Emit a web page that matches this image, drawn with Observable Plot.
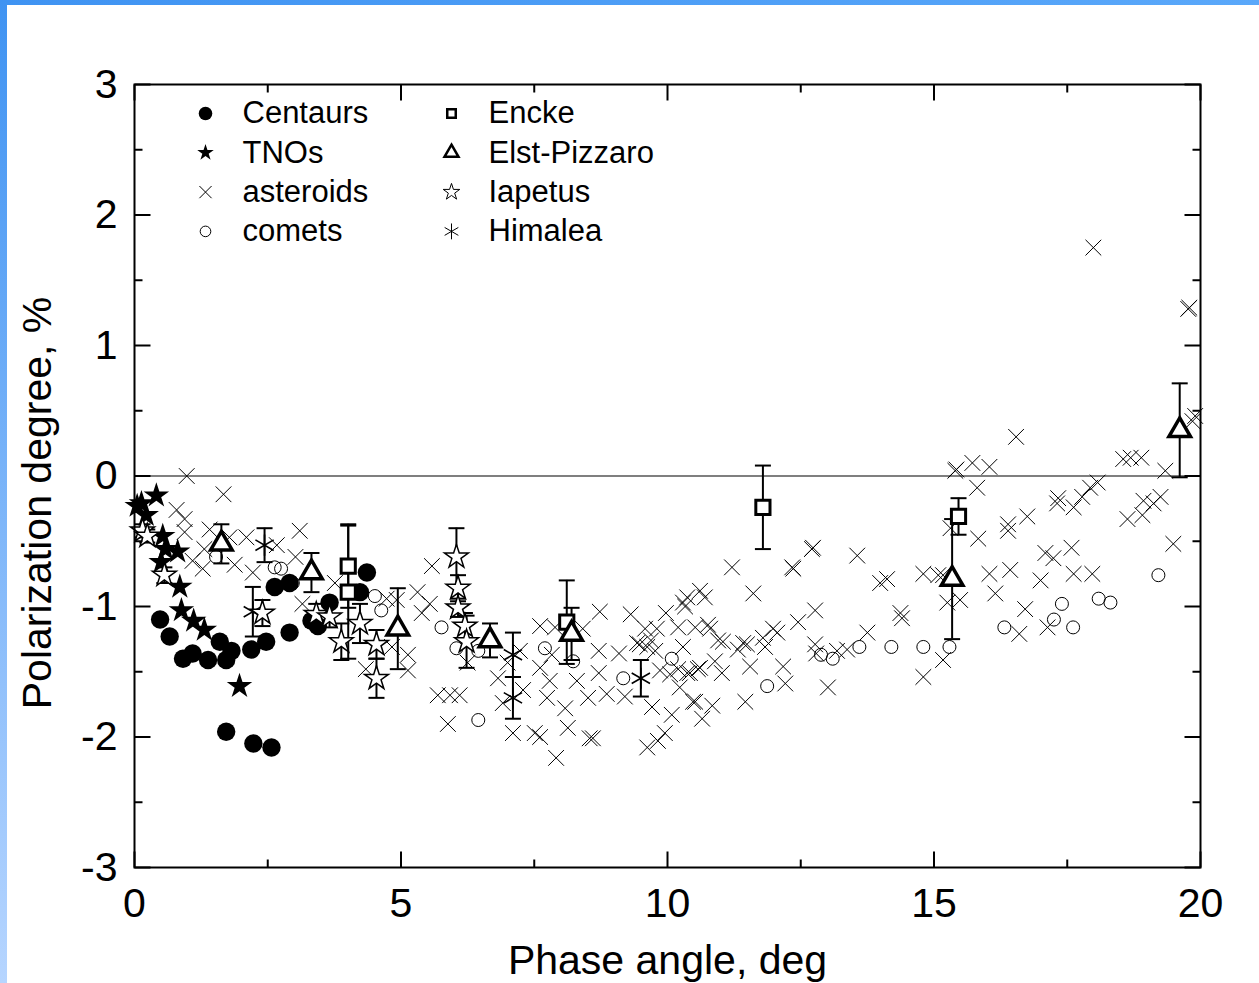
<!DOCTYPE html>
<html>
<head>
<meta charset="utf-8">
<script src="https://cdn.jsdelivr.net/npm/d3@7"></script>
<script src="https://cdn.jsdelivr.net/npm/@observablehq/plot@0.6"></script>
<style>
html,body{margin:0;padding:0;background:#fff;}
#wrap{position:relative;width:1259px;height:983px;overflow:hidden;background:#fff;}
#bandTop{position:absolute;left:0;top:0;width:1259px;height:5px;background:linear-gradient(to right,#3f93f2,#5aa8fa);}
#bandLeft{position:absolute;left:0;top:0;width:7px;height:983px;background:linear-gradient(to bottom,#3f93f2,#b6d5ff);}
#chart{position:absolute;left:0;top:0;}
</style>
</head>
<body>
<div id="wrap"><div id="bandTop"></div><div id="bandLeft"></div><div id="chart"></div></div>
<script>
// ---- data ----
const xTicks = [0, 5, 10, 15, 20];
const xMinorTicks = [2.5, 7.5, 12.5, 17.5];
const yTicks = [-3, -2, -1, 0, 1, 2, 3];
const yMinorTicks = [-2.5, -1.5, -0.5, 0.5, 1.5, 2.5];

const cenX = [0.48,0.66,0.91,1.09,1.38,1.60,1.72,1.82,2.19,2.47,2.63,2.91,2.91,3.32,3.44,3.66,4.23,4.36,1.72,2.23,2.57];
const cenY = [-1.10,-1.23,-1.40,-1.36,-1.41,-1.27,-1.41,-1.34,-1.33,-1.27,-0.85,-0.82,-1.20,-1.11,-1.15,-0.97,-0.89,-0.74,-1.96,-2.05,-2.08];

const tnoX = [0.05,0.13,0.41,0.22,0.53,0.58,0.81,0.50,0.85,0.88,1.11,1.31,1.97];
const tnoY = [-0.23,-0.21,-0.15,-0.30,-0.46,-0.56,-0.58,-0.66,-0.85,-1.03,-1.11,-1.18,-1.61];

const astX = [0.98,1.67,0.79,0.94,0.94,1.41,1.31,1.09,1.28,2.10,1.78,1.88,2.22,2.67,3.10,3.02,3.15,3.76,4.73,4.83,5.13,5.13,4.34,
5.58,5.31,5.54,5.39,4.92,5.69,5.92,6.10,5.88,6.25,6.82,6.91,7.00,7.10,7.23,7.29,7.51,7.61,7.61,7.61,7.74,7.79,7.83,7.89,7.91,8.08,8.13,
8.30,8.41,8.51,8.54,8.60,8.71,8.71,8.73,8.86,9.09,9.20,9.31,9.43,9.58,9.62,9.71,9.62,9.82,9.95,9.97,10.08,10.20,10.29,10.29,10.37,
9.48,9.69,9.80,9.77,9.86,10.05,10.20,10.23,10.42,10.61,10.70,10.52,10.61,10.52,10.84,10.65,10.80,10.95,10.89,11.02,11.21,11.32,11.49,
11.55,11.46,11.61,11.79,11.83,12.06,12.17,12.21,12.34,12.36,12.45,12.71,12.73,13.56,13.99,14.12,12.77,11.98,11.04,12.79,12.77,13.01,
13.18,13.37,13.75,14.37,14.40,14.80,15.08,15.17,15.31,15.25,15.49,14.80,15.17,15.40,15.42,15.72,15.81,15.83,10.48,10.37,10.33,10.76,
10.57,11.42,17.99,19.77,19.79,16.54,16.04,19.85,19.90,18.55,18.69,18.89,19.34,18.07,17.93,17.78,17.33,17.31,17.62,16.75,16.39,16.39,
18.93,19.12,19.25,18.91,18.63,19.49,17.09,17.24,17.58,17.62,17.97,16.43,16.04,17.00,16.15,16.71,16.60,17.13];
const astY = [0.00,-0.14,-0.26,-0.33,-0.43,-0.41,-0.56,-0.65,-0.71,-0.47,-0.47,-0.68,-0.74,-0.53,-0.42,-0.62,-0.98,-0.82,-0.94,-1.31,-1.37,-1.49,-1.48,
-0.69,-0.89,-0.98,-1.05,-0.95,-1.68,-1.68,-1.68,-1.90,-1.43,-1.55,-1.74,-1.43,-1.97,-1.34,-1.64,-1.97,-2.00,-1.15,-1.47,-1.70,-1.57,-1.37,-1.16,-2.16,-1.78,-1.93,
-1.57,-1.17,-1.70,-2.01,-2.01,-1.51,-1.34,-1.04,-1.67,-1.36,-1.69,-1.06,-1.28,-1.17,-1.31,-1.77,-2.08,-2.03,-1.97,-1.05,-1.83,-1.16,-0.97,-1.31,-1.51,
-1.29,-1.26,-1.17,-1.34,-1.49,-1.52,-1.48,-1.62,-1.51,-0.88,-0.93,-1.16,-1.47,-1.73,-1.76,-1.86,-1.17,-1.26,-1.42,-1.51,-0.70,-1.33,-1.29,
-1.46,-1.73,-0.90,-1.24,-1.31,-1.20,-1.46,-1.59,-0.70,-0.71,-1.12,-0.56,-0.55,-0.61,-0.82,-0.79,-1.03,-1.17,-1.27,-1.36,-1.29,-1.62,
-1.34,-1.33,-1.20,-1.05,-1.09,-0.75,-0.76,-0.76,-0.40,-0.97,-0.95,-1.54,-1.41,0.04,0.05,0.10,-0.09,-0.48,-1.73,-0.93,-1.00,-1.14,
-1.48,-1.28,1.75,1.28,1.29,0.30,0.07,0.42,0.46,0.13,0.14,0.14,0.04,-0.05,-0.09,-0.16,-0.17,-0.21,-0.24,-0.31,-0.37,-0.42,
-0.19,-0.21,-0.16,-0.30,-0.33,-0.52,-0.59,-0.63,-0.55,-0.75,-0.75,-0.72,-0.75,-0.80,-0.90,-1.02,-1.21,-1.16];

const comX = [1.53,2.63,2.75,2.97,4.51,4.63,5.76,6.04,6.45,6.45,7.70,8.23,9.17,10.08,11.87,12.88,13.10,13.60,14.20,14.80,15.29,16.32,17.25,17.40,17.61,18.09,18.31,19.21];
const comY = [-0.62,-0.70,-0.71,-0.82,-0.92,-1.03,-1.16,-1.32,-1.34,-1.87,-1.32,-1.42,-1.55,-1.40,-1.61,-1.37,-1.40,-1.31,-1.31,-1.31,-1.31,-1.16,-1.10,-0.98,-1.16,-0.94,-0.97,-0.76];

const enckeX = [4.01,4.01,8.11,11.79,15.46];
const enckeY = [-0.69,-0.89,-1.12,-0.24,-0.31];
const enckeErr = [0.32,0.51,0.32,0.32,0.14];

const elstX = [1.63,3.32,4.94,6.67,8.20,15.34,19.61];
const elstY = [-0.52,-0.74,-1.17,-1.26,-1.21,-0.79,0.35];
const elstErr = [0.15,0.15,0.31,0.13,0.20,0.46,0.36];

const iapX = [0.15,0.24,0.56,2.40,3.41,3.66,3.88,4.23,4.54,4.54,6.04,6.07,6.07,6.20,6.23];
const iapY = [-0.42,-0.46,-0.76,-1.05,-1.06,-1.08,-1.27,-1.13,-1.29,-1.55,-0.62,-0.86,-1.01,-1.15,-1.27];
const iapErr = [0.05,0.05,0.06,0.10,0.08,0.08,0.14,0.15,0.11,0.15,0.22,0.10,0.07,0.10,0.20];

const himX = [2.44,2.22,7.10,7.10,9.50];
const himY = [-0.53,-1.04,-1.37,-1.70,-1.55];
const himErr = [0.13,0.19,0.17,0.16,0.14];

const legendLabels = ["Centaurs","TNOs","asteroids","comets","Encke","Elst-Pizzaro","Iapetus","Himalea"];

// ---- build ----
const mk = (xs, ys, es) => xs.map((x, i) => ({x, y: ys[i], e: es ? es[i] : 0}));
const centaurs = mk(cenX, cenY), tnos = mk(tnoX, tnoY), asts = mk(astX, astY), comets = mk(comX, comY);
const encke = mk(enckeX, enckeY, enckeErr), elst = mk(elstX, elstY, elstErr);
const iap = mk(iapX, iapY, iapErr), him = mk(himX, himY, himErr);
const errs = [...him, ...iap, ...encke, ...elst];

const line = (x1, y1, x2, y2) => ({draw(ctx) { ctx.moveTo(x1, y1); ctx.lineTo(x2, y2); }});
const cap = line(-8, 0, 8, 0);
const K = "black";

const errMarks = [
  Plot.ruleX(errs, {x: "x", y1: d => d.y - d.e, y2: d => d.y + d.e, stroke: K, strokeWidth: 2}),
  Plot.dot(errs, {x: "x", y: d => d.y - d.e, symbol: cap, fill: "none", stroke: K, strokeWidth: 2}),
  Plot.dot(errs, {x: "x", y: d => d.y + d.e, symbol: cap, fill: "none", stroke: K, strokeWidth: 2})
];

const tickMarks = [];
for (const [vals, L] of [[xTicks, 16], [xMinorTicks, 8]]) {
  tickMarks.push(Plot.dot(vals, {x: d => d, y: () => -3, symbol: line(0, 0, 0, -L), fill: "none", stroke: K, strokeWidth: 2}));
  tickMarks.push(Plot.dot(vals, {x: d => d, y: () => 3, symbol: line(0, 0, 0, L), fill: "none", stroke: K, strokeWidth: 2}));
}
for (const [vals, L] of [[yTicks, 16], [yMinorTicks, 8]]) {
  tickMarks.push(Plot.dot(vals, {y: d => d, x: () => 0, symbol: line(0, 0, L, 0), fill: "none", stroke: K, strokeWidth: 2}));
  tickMarks.push(Plot.dot(vals, {y: d => d, x: () => 20, symbol: line(0, 0, -L, 0), fill: "none", stroke: K, strokeWidth: 2}));
}

// legend
const legSpecs = [
  {symbol: "circle", r: 6.8, fill: K, stroke: "none", sw: 0},
  {symbol: "star", r: 5.2, fill: K, stroke: "none", sw: 0},
  {symbol: "times", r: 5.6, fill: "none", stroke: K, sw: 1},
  {symbol: "circle", r: 5.3, fill: "none", stroke: K, sw: 1},
  {symbol: "square", r: 4.8, fill: "white", stroke: K, sw: 2.5},
  {symbol: "triangle", r: 5.2, fill: "white", stroke: K, sw: 2.5},
  {symbol: "star", r: 5.2, fill: "white", stroke: K, sw: 1},
  {symbol: "asterisk", r: 7.5, fill: "none", stroke: K, sw: 1}
];
const legendMarks = [];
legendLabels.forEach((lab, i) => {
  const col = Math.floor(i / 4), row = i % 4;
  const s = legSpecs[i];
  const dy = 29 + row * 39.3;
  legendMarks.push(Plot.dot([lab], {frameAnchor: "top-left", dx: 71 + col * 246, dy, symbol: s.symbol, r: s.r, fill: s.fill, stroke: s.stroke, strokeWidth: s.sw}));
  legendMarks.push(Plot.text([lab], {frameAnchor: "top-left", dx: 108 + col * 246, dy, text: d => d, textAnchor: "start", lineAnchor: "middle", fontSize: 31, fill: K}));
});

const fmt = d => (d < 0 ? "-" + Math.abs(d) : String(d));

const chart = Plot.plot({
  width: 1259,
  height: 983,
  marginLeft: 134,
  marginRight: 59,
  marginTop: 84,
  marginBottom: 116,
  style: {fontFamily: "'Liberation Sans', Arial, sans-serif", background: "transparent", overflow: "visible", color: "black"},
  x: {domain: [0, 20]},
  y: {domain: [-3, 3]},
  marks: [
    Plot.ruleY([0], {stroke: K, strokeWidth: 1.2}),
    Plot.dot(asts, {x: "x", y: "y", symbol: "times", r: 7.2, stroke: K, strokeWidth: 1, fill: "none"}),
    Plot.dot(comets, {x: "x", y: "y", symbol: "circle", r: 6.5, stroke: K, strokeWidth: 1, fill: "none"}),
    Plot.dot(centaurs, {x: "x", y: "y", symbol: "circle", r: 9.2, fill: K, stroke: "none"}),
    Plot.dot(tnos, {x: "x", y: "y", symbol: "star", r: 8, fill: K, stroke: "none"}),
    ...errMarks,
    Plot.dot(him, {x: "x", y: "y", symbol: "asterisk", r: 10, stroke: K, strokeWidth: 1.6, fill: "none"}),
    Plot.dot(iap, {x: "x", y: "y", symbol: "star", r: 7.5, stroke: K, strokeWidth: 1.5, fill: "white"}),
    Plot.dot(encke, {x: "x", y: "y", symbol: "square", r: 8, stroke: K, strokeWidth: 3, fill: "white"}),
    Plot.dot(elst, {x: "x", y: "y", symbol: "triangle", r: 8, stroke: K, strokeWidth: 3.5, fill: "white"}),
    ...tickMarks,
    Plot.frame({stroke: K, strokeWidth: 2}),
    Plot.axisX({ticks: xTicks, tickSize: 0, tickPadding: 20, fontSize: 41, tickFormat: fmt, label: null}),
    Plot.axisY({ticks: yTicks, tickSize: 0, tickPadding: 17, fontSize: 41, tickFormat: fmt, label: null}),
    Plot.text(["Phase angle, deg"], {frameAnchor: "bottom", dy: 106, text: d => d, fontSize: 41, fill: K}),
    Plot.text(["Polarization degree, %"], {frameAnchor: "left", dx: -97, dy: 27, rotate: -90, textAnchor: "middle", text: d => d, fontSize: 41, fill: K}),
    ...legendMarks
  ]
});
document.getElementById("chart").appendChild(chart);
</script>
</body>
</html>
